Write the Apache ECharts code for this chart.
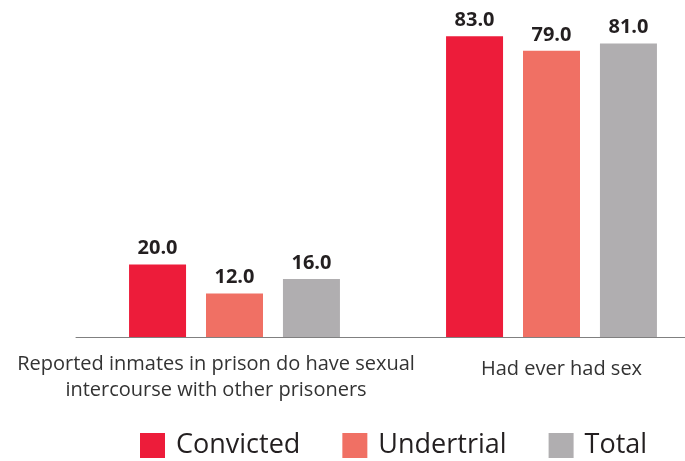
<!DOCTYPE html>
<html>
<head>
<meta charset="utf-8">
<script src="https://cdn.jsdelivr.net/npm/echarts@6/dist/echarts.min.js"></script>
<style>
  html, body { margin: 0; padding: 0; background: #fff; overflow: hidden; }
  #main { width: 710px; height: 461px; }
</style>
</head>
<body>
<div id="main"></div>
<script>
var categories = ['Reported inmates in prison do have sexual\nintercourse with other prisoners', 'Had ever had sex'];
var convicted = [20.0, 83.0];
var undertrial = [12.0, 79.0];
var total = [16.0, 81.0];
var seriesNames = ['Convicted', 'Undertrial', 'Total'];

var chart = echarts.init(document.getElementById('main'));

function makeSeries(name, data, color) {
    return {
        name: name,
        type: 'bar',
        data: data,
        barWidth: 57,
        barGap: '35%',
        itemStyle: { color: color },
        label: {
            show: true,
            position: 'top',
            distance: 6,
            formatter: function (p) { return p.value.toFixed(1); },
            color: '#231f20',
            fontFamily: 'Open Sans',
            fontWeight: 'bold',
            fontSize: 20
        }
    };
}

var option = {
    animation: false,
    textStyle: { fontFamily: 'Open Sans' },
    grid: { left: 76, right: 0, top: 11, bottom: 124, containLabel: false },
    legend: {
        data: seriesNames,
        left: 135,
        bottom: -3,
        itemWidth: 25,
        itemHeight: 25,
        itemGap: 42,
        icon: 'rect',
        textStyle: { fontSize: 27, color: '#231f20', fontFamily: 'Open Sans', padding: [0, 0, 0, 6] }
    },
    xAxis: {
        type: 'category',
        data: [
            { value: categories[0], textStyle: { padding: [0, 37, 0, 0] } },
            { value: categories[1], textStyle: { padding: [5, 0, 0, 20] } }
        ],
        axisLine: { lineStyle: { color: '#808080', width: 1 } },
        axisTick: { show: false },
        axisLabel: { interval: 0, margin: 14, fontSize: 20, color: '#333333', lineHeight: 26 }
    },
    yAxis: {
        type: 'value',
        min: 0,
        max: 90,
        show: false
    },
    series: [
        makeSeries(seriesNames[0], convicted, '#ED1C3A'),
        makeSeries(seriesNames[1], undertrial, '#F07064'),
        makeSeries(seriesNames[2], total, '#B0AEB0')
    ]
};

chart.setOption(option);
</script>
</body>
</html>
